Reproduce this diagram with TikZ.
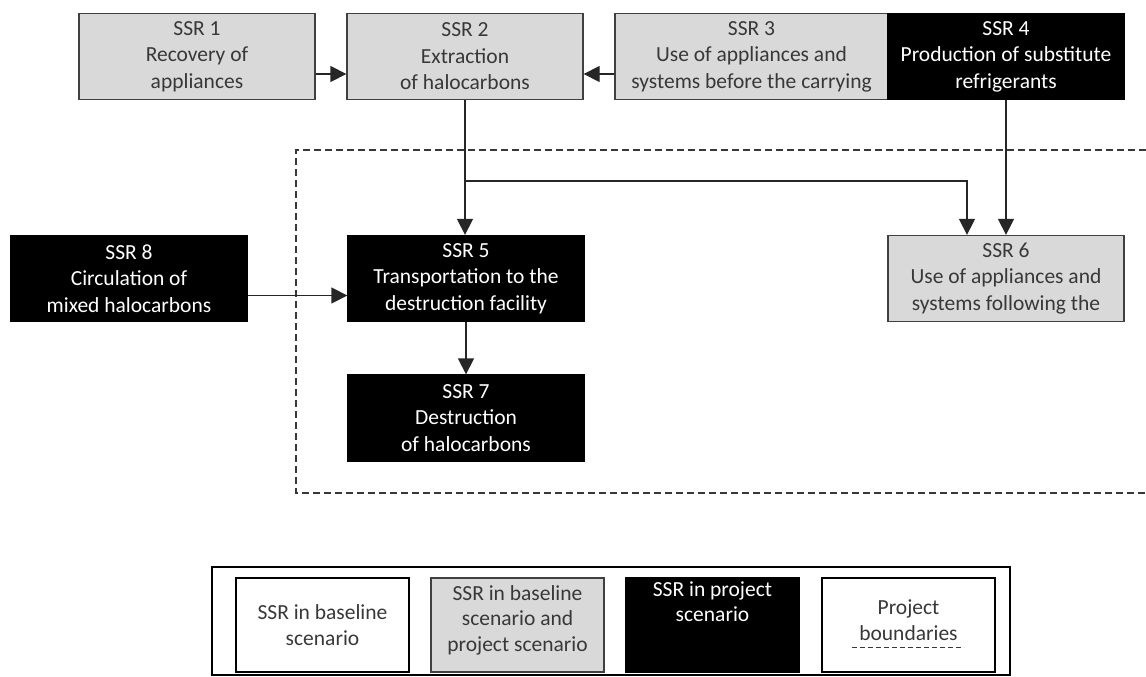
\documentclass[tikz,border=0pt]{standalone}
\usepackage{fontspec}
\setmainfont{Carlito}
\usetikzlibrary{arrows.meta, calc}
\definecolor{boxgrey}{HTML}{D9D9D9}
\definecolor{edgegrey}{HTML}{404040}
\definecolor{txtgrey}{HTML}{383838}

\begin{document}
\begin{tikzpicture}[x=1pt, y=-1pt,
        ssr/.style={rectangle, draw=edgegrey, line width=1.3pt, minimum width=236pt, minimum height=86pt, inner sep=0pt, align=center, font=\fontsize{21.5}{26.5}\selectfont},
        both/.style={ssr, fill=boxgrey, text=txtgrey},
        proj/.style={ssr, fill=black, draw=black, text=white},
        flow/.style={-{Triangle[length=16pt, width=16pt]}, draw=black!85, line width=1.3pt},
        boundary/.style={dash pattern=on 7pt off 4pt, line width=1.2pt, draw=txtgrey},
        legbox/.style={rectangle, draw=black, line width=1.3pt, minimum width=173pt, minimum height=94pt, inner sep=0pt, align=center, text=txtgrey, font=\fontsize{21.5}{26}\selectfont},
        legtext/.style={inner sep=0pt, align=center, text=txtgrey, font=\fontsize{21.5}{25.5}\selectfont},
    ]
    \useasboundingbox (0,0) rectangle (1146,677);

    % Top row
    \node[both] (ssr1) at (197,56.5) {SSR 1\\Recovery of\\appliances};
    \node[both] (ssr2) at (465,56.5) {SSR 2\\Extraction\\of halocarbons};
    \node[both, minimum width=273pt] (ssr3) at (751.5,56.5) {SSR 3\\Use of appliances and\\systems before the carrying};
    \node[proj, minimum width=236pt] (ssr4) at (1006,56.5) {SSR 4\\Production of substitute\\refrigerants};

    % Middle row
    \node[proj] (ssr8) at (129,278.5) {SSR 8\\Circulation of\\mixed halocarbons};
    \node[proj] (ssr5) at (466,278.5) {SSR 5\\Transportation to the\\destruction facility};
    \node[both] (ssr6) at (1006,278.5) {SSR 6\\Use of appliances and\\systems following the};
    \node[proj] (ssr7) at (466,418) {SSR 7\\Destruction\\of halocarbons};

    % Project boundaries
    \draw[boundary] (1146,150) -| (296,493) -- (1146,493);

    % Flows
    \coordinate (split) at (ssr2.south |- 0,181);
    \draw[flow] ([yshift=-17.5pt]ssr1.east) -- ([yshift=-17.5pt]ssr2.west);
    \draw[flow] ([yshift=-17.5pt]ssr3.west) -- ([yshift=-17.5pt]ssr2.east);
    \draw[flow] (ssr2.south) -- (split) -- (ssr2.south |- ssr5.north);
    \draw[flow] (split) -| ([xshift=-39pt]ssr6.north);
    \draw[flow] (ssr4.south) -- (ssr6.north);
    \draw[flow] ([yshift=-17pt]ssr8.east) -- ([yshift=-17pt]ssr5.west);
    \draw[flow] (ssr5.south) -- (ssr7.north);

    % Legend
    \node[rectangle, draw=black, line width=2.2pt, minimum width=798pt, minimum height=108pt, inner sep=0pt] (legend) at (611,621) {};
    \node[legbox] (lgbase) at (322.5,625) {SSR in baseline\\scenario};
    \node[legbox, fill=boxgrey, draw=edgegrey] (lgboth) at (517.5,625) {};
    \node[legtext] (lgbothtxt) at ([yshift=5pt]lgboth.center) {SSR in baseline\\scenario and\\project scenario};
    \node[legbox, fill=black] (lgproj) at (712.5,625) {};
    \node[legtext, anchor=north, text=white] (lgprojtxt) at ([yshift=-4pt]lgproj.north) {SSR in project\\scenario};
    \node[legbox, line width=2.2pt] (lgbound) at (908.5,625) {};
    \node[legtext] (lgboundtxt) at ([yshift=5pt]lgbound.center) {Project\\boundaries};
    \draw[boundary, dash pattern=on 5pt off 3pt, line width=1pt] ($(lgbound.center)+(-57,22)$) -- ($(lgbound.center)+(55,22)$);
\end{tikzpicture}
\end{document}
